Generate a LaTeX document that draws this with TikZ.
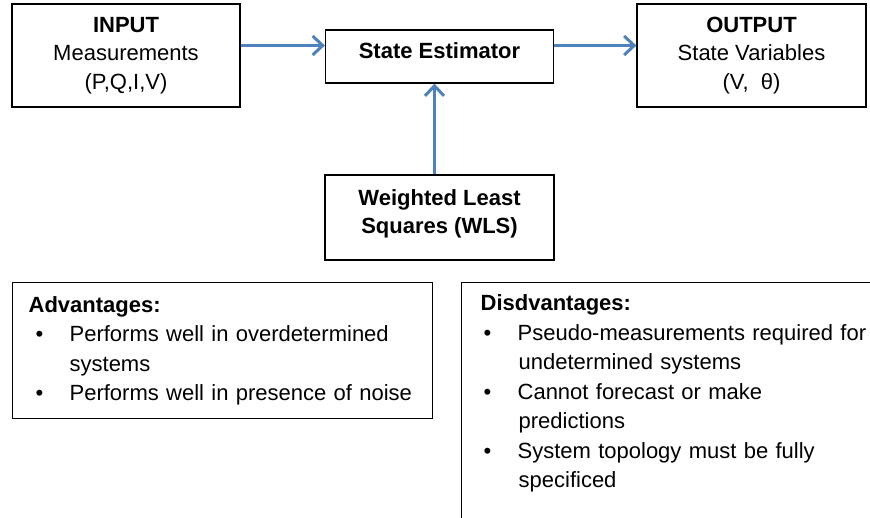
\documentclass[tikz,border=0pt]{standalone}
\usepackage{fontspec}
\setmainfont{Liberation Sans}
\usetikzlibrary{arrows.meta}
\definecolor{arrowblue}{RGB}{79,129,189}
\newcommand{\bitem}[2][7pt]{\hspace*{#1}\makebox[34pt][l]{\textbullet}#2}
\newcommand{\bcont}[1]{\hspace*{41pt}#1}
\begin{document}
\begin{tikzpicture}[x=1pt,y=-1pt,
  box/.style={draw=black, line width=1.3pt, rectangle, inner sep=0pt, align=center,
    font=\fontsize{22}{28.5}\selectfont},
  flow/.style={draw=arrowblue, line width=3pt,
    -{Straight Barb[length=10pt,width=19pt,line width=3pt]}},
  listbox/.style={draw=black, line width=1.3pt, rectangle, anchor=north west, align=left,
    inner ysep=12pt, font=\fontsize{22}{29.5}\selectfont}
]
\useasboundingbox (0,0) rectangle (870,517);
\fill[white] (0,0) rectangle (870,517);

\node[box, minimum width=228pt, minimum height=103pt] (in) at (126,55.5)
  {\textbf{INPUT}\\Measurements\\(P,Q,I,V)};
\node[box, minimum width=228pt, minimum height=53pt, text depth=12pt] (se) at (439.5,56.5)
  {\textbf{State Estimator}};
\node[box, minimum width=229pt, minimum height=103pt] (out) at (751.5,55.5)
  {\textbf{OUTPUT}\\State Variables\\(V,~ θ)};
\node[box, minimum width=229pt, minimum height=85pt, text depth=12pt] (wls) at (439.5,217.5)
  {\textbf{Weighted Least}\\\textbf{Squares (WLS)}};

\coordinate (inport) at ([yshift=10pt]in.east);
\draw[flow] (inport) -- (inport -| se.west);
\draw[flow] (inport -| se.east) -- (inport -| out.west);
\draw[flow] ([xshift=-5pt]wls.north) -- ([xshift=-5pt]se.south);

\node[listbox, inner xsep=16pt, text width=388pt, minimum height=136pt] (adv) at (12,282)
  {\textbf{Advantages:}\\
   \bitem{Performs well in overdetermined}\\
   \bcont{systems}\\
   \bitem{Performs well in presence of noise}};

\node[listbox, inner xsep=19pt, text width=392pt, text depth=240pt] (dis) at (461,282)
  {\textbf{Disdvantages:}\\
   \bitem[3pt]{Pseudo-measurements required for}\\
   \hspace*{38pt}undetermined systems\\
   \bitem[3pt]{Cannot forecast or make}\\
   \hspace*{38pt}predictions\\
   \bitem[3pt]{System topology must be fully}\\
   \hspace*{38pt}specificed};
\end{tikzpicture}
\end{document}
